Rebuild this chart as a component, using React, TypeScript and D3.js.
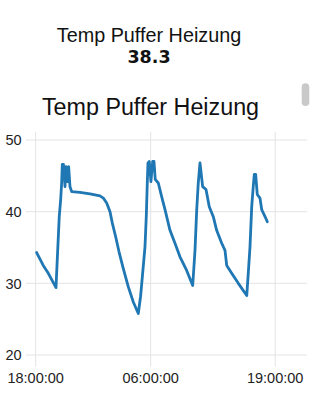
import React from "react";
import * as d3 from "d3";

const title = "Temp Puffer Heizung";
const currentValue = "38.3";
const startTime = "2024-01-01T18:00:00";

// hours since 18:00 of day 1
const hoursSinceStart = [
  0.10, 0.79, 1.32, 2.12, 2.25, 2.46, 2.61, 2.71, 2.78, 2.90, 3.06, 3.16, 3.30, 3.44, 3.58, 3.76,
  4.62, 5.67, 6.71, 7.06, 7.41, 7.76, 8.00, 8.35, 8.70, 9.14, 9.67, 10.19, 10.71,
  10.95, 11.10, 11.41, 11.55, 11.65, 11.72, 11.86, 12.03, 12.21, 12.35, 12.48,
  12.80, 13.15, 13.50, 14.02, 14.54, 15.06, 15.76, 16.39,
  16.63, 16.81, 16.97, 17.15, 17.43, 17.78, 18.12, 18.54, 18.89, 19.42, 19.76, 19.94, 20.46, 21.15, 22.03,
  22.19, 22.37, 22.55, 22.71, 22.82, 22.96, 23.13, 23.41, 23.59, 23.94, 24.18,
];
const temps = [
  34.3, 32.5, 31.4, 29.4, 33.2, 39.3, 41.7, 44.0, 46.6, 46.6, 43.5, 46.3, 44.2, 46.3, 43.5, 42.8,
  42.7, 42.5, 42.2, 41.9, 41.2, 40.0, 38.4, 36.5, 34.4, 32.1, 29.5, 27.4, 25.8,
  28.2, 30.4, 35.1, 39.5, 44.0, 46.8, 47.0, 44.2, 47.0, 47.0, 44.5,
  44.0, 42.1, 40.3, 37.4, 35.6, 33.7, 31.8, 29.7,
  34.6, 40.3, 44.0, 46.8, 43.5, 43.1, 40.7, 39.3, 37.4, 35.6, 34.6, 32.5, 31.4, 30.0, 28.3,
  31.4, 35.1, 40.7, 43.5, 45.2, 45.2, 42.4, 41.9, 40.3, 39.3, 38.6,
];

const yTicks = [20, 30, 40, 50];
const xTickHours = [0, 12, 25];
const xTickLabels = ["18:00:00", "06:00:00", "19:00:00"];
const xDomainHours = [-1.01, 28.32];
const yDomain = [18.37, 51.16];

export default function App() {
  const t0 = new Date(startTime).getTime();
  const toDate = (h: number) => new Date(t0 + h * 3600 * 1000);

  const left = 26, right = 307, top = 131.7, bottom = 366.7;
  const x = d3.scaleTime().domain(xDomainHours.map(toDate)).range([left, right]);
  const y = d3.scaleLinear().domain(yDomain).range([bottom, top]);

  const points = hoursSinceStart.map((h, i) => ({ d: toDate(h), v: temps[i] }));
  const line = d3
    .line<{ d: Date; v: number }>()
    .x((p) => x(p.d))
    .y((p) => y(p.v));

  const font = "'Liberation Sans', Arial, Helvetica, sans-serif";

  return (
    <svg
      width={320}
      height={400}
      style={{ position: "absolute", left: 0, top: 0, background: "#fff" }}
    >
      <text x={149} y={41.5} textAnchor="middle" fontFamily={font} fontSize={19.8} fill="#111">
        {title}
      </text>
      <text
        x={149}
        y={63}
        textAnchor="middle"
        fontFamily="'DejaVu Sans', sans-serif"
        fontWeight="bold"
        fontSize={17.5}
        fill="#111"
      >
        {currentValue}
      </text>
      <text x={150.5} y={115} textAnchor="middle" fontFamily={font} fontSize={23.3} fill="#111">
        {title}
      </text>
      <rect x={301.7} y={83.3} width={7.6} height={22.7} rx={3.8} fill="#c9c9c9" />

      {yTicks.map((t) => (
        <g key={"y" + t}>
          <line x1={left} x2={right} y1={y(t)} y2={y(t)} stroke="#e4e4e4" strokeWidth={1} />
          <text
            x={21.7}
            y={y(t)}
            dy="0.36em"
            textAnchor="end"
            fontFamily={font}
            fontSize={14.5}
            fill="#222"
          >
            {t}
          </text>
        </g>
      ))}
      {xTickHours.map((h, i) => (
        <g key={"x" + h}>
          <line
            x1={x(toDate(h))}
            x2={x(toDate(h))}
            y1={top}
            y2={bottom}
            stroke="#e4e4e4"
            strokeWidth={1}
          />
          <text
            x={x(toDate(h))}
            y={382.5}
            textAnchor="middle"
            fontFamily={font}
            fontSize={14.5}
            fill="#222"
          >
            {xTickLabels[i]}
          </text>
        </g>
      ))}

      <path
        d={line(points) || ""}
        fill="none"
        stroke="#1f77b4"
        strokeWidth={2.8}
        strokeLinejoin="round"
        strokeLinecap="round"
      />
    </svg>
  );
}
